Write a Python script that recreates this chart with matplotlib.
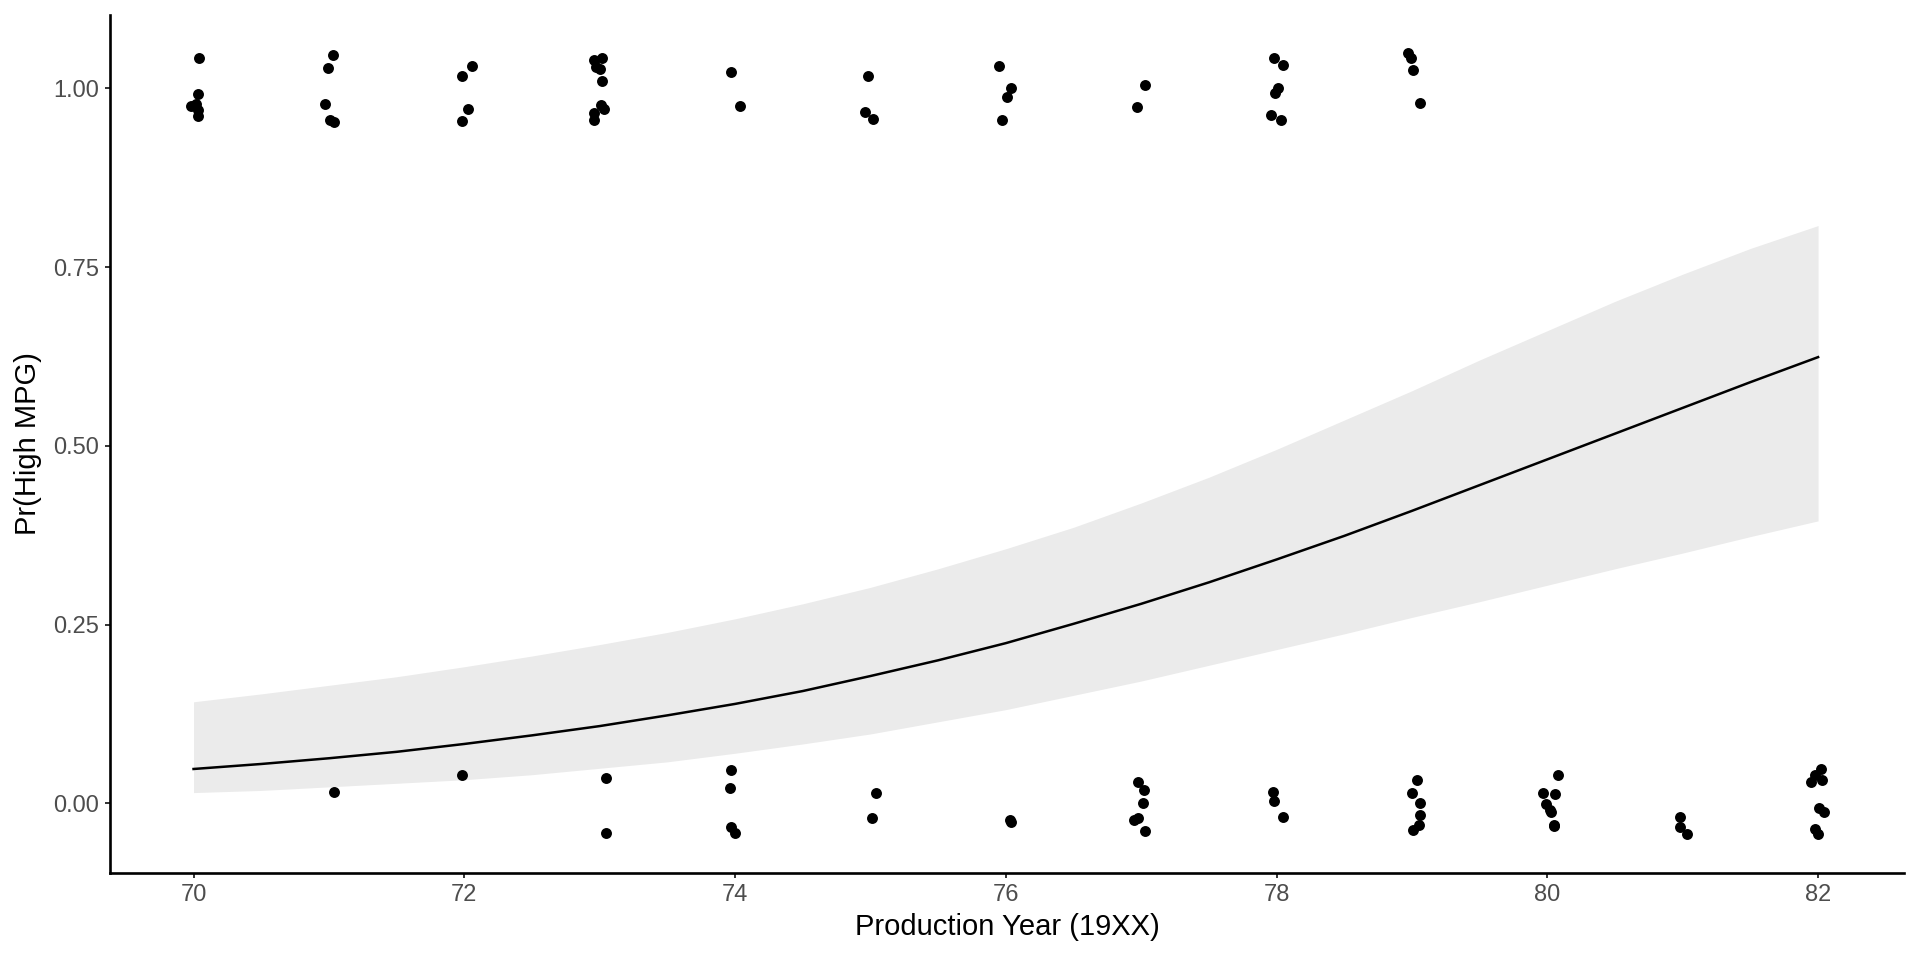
import matplotlib
matplotlib.use("Agg")
import matplotlib.pyplot as plt

# fitted curve and 95% band, every half year
fit_year = [70.0, 70.5, 71.0, 71.5, 72.0, 72.5, 73.0, 73.5, 74.0, 74.5, 75.0, 75.5, 76.0,
            76.5, 77.0, 77.5, 78.0, 78.5, 79.0, 79.5, 80.0, 80.5, 81.0, 81.5, 82.0]
fit_p = [0.048, 0.055, 0.063, 0.072, 0.083, 0.095, 0.108, 0.123, 0.139, 0.157, 0.178, 0.200, 0.224,
         0.251, 0.279, 0.309, 0.341, 0.374, 0.409, 0.445, 0.481, 0.517, 0.553, 0.589, 0.624]
fit_lo = [0.015, 0.018, 0.023, 0.028, 0.033, 0.040, 0.049, 0.058, 0.070, 0.083, 0.097, 0.114, 0.131,
          0.151, 0.171, 0.193, 0.215, 0.237, 0.260, 0.282, 0.305, 0.328, 0.350, 0.373, 0.395]
fit_hi = [0.142, 0.153, 0.165, 0.177, 0.191, 0.206, 0.222, 0.239, 0.258, 0.279, 0.302, 0.328, 0.356,
          0.386, 0.420, 0.456, 0.495, 0.536, 0.577, 0.620, 0.661, 0.702, 0.740, 0.776, 0.808]

# jittered observations (year, value)
obs_year = [
    70.04, 70.03, 70.02, 69.98, 70.03, 70.03,
    71.03, 70.99, 70.97, 71.01, 71.04,
    72.06, 71.98, 72.03, 71.98,
    73.02, 72.96, 72.97, 73.00, 73.02, 73.01, 73.03, 72.96, 72.96,
    73.97, 74.04,
    74.98, 74.96, 75.02,
    75.95, 76.04, 76.01, 75.97,
    77.03, 76.97,
    77.98, 78.05, 78.01, 77.99, 77.96, 78.03,
    78.97, 78.99, 79.01, 79.06,
    71.04, 71.98, 73.05, 73.05,
    73.97, 73.96, 73.97, 74.00,
    75.04, 75.01, 76.03, 76.04,
    76.98, 77.02, 77.01, 76.98, 76.95, 77.03,
    77.97, 77.98, 78.05,
    79.04, 79.00, 79.06, 79.06, 79.05, 79.01,
    80.08, 79.97, 80.06, 79.99, 80.02, 80.03, 80.05, 80.05,
    80.98, 80.98, 81.03,
    82.02, 81.98, 81.95, 82.03, 82.01, 82.04, 81.98, 82.00,
]
obs_p = [
    1.042, 0.992, 0.978, 0.975, 0.970, 0.961,
    1.047, 1.028, 0.978, 0.956, 0.953,
    1.031, 1.017, 0.971, 0.954,
    1.043, 1.039, 1.030, 1.027, 1.010, 0.976, 0.971, 0.966, 0.956,
    1.023, 0.975,
    1.017, 0.967, 0.957,
    1.031, 1.001, 0.988, 0.956,
    1.005, 0.974,
    1.043, 1.032, 1.001, 0.994, 0.962, 0.956,
    1.050, 1.042, 1.026, 0.979,
    0.016, 0.040, 0.035, -0.041,
    0.047, 0.021, -0.033, -0.041,
    0.014, -0.021, -0.024, -0.026,
    0.030, 0.018, 0.000, -0.021, -0.023, -0.039,
    0.016, 0.003, -0.019,
    0.033, 0.015, 0.000, -0.017, -0.030, -0.037,
    0.039, 0.015, 0.013, -0.001, -0.009, -0.012, -0.030, -0.032,
    -0.019, -0.033, -0.043,
    0.048, 0.040, 0.030, 0.033, -0.007, -0.012, -0.036, -0.043,
]

x_ticks = [70, 72, 74, 76, 78, 80, 82]
y_ticks = [0.00, 0.25, 0.50, 0.75, 1.00]

plt.rcParams['font.family'] = ['Liberation Sans', 'DejaVu Sans']

fig = plt.figure(figsize=(19.2, 9.6), dpi=100)
ax = fig.add_axes([0.0573, 0.0906, 0.9344, 0.8938])

ax.fill_between(fit_year, fit_lo, fit_hi, color="#EBEBEB", linewidth=0, zorder=1)
ax.plot(fit_year, fit_p, color="black", lw=1.8, zorder=2)
ax.scatter(obs_year, obs_p, s=62, color="black", linewidths=0, zorder=3)

ax.set_xlim(69.383, 82.635)
ax.set_ylim(-0.0975, 1.1025)
ax.set_xticks(x_ticks)
ax.set_xticklabels([str(t) for t in x_ticks])
ax.set_yticks(y_ticks)
ax.set_yticklabels([f"{t:.2f}" for t in y_ticks])

for side in ["top", "right"]:
    ax.spines[side].set_visible(False)
for side in ["left", "bottom"]:
    ax.spines[side].set_linewidth(1.9)
    ax.spines[side].set_color("black")

ax.tick_params(axis="both", length=3.6, width=1.4, color="#333333",
               labelsize=17, labelcolor="#4D4D4D", pad=4.5)

ax.set_xlabel("Production Year (19XX)", fontsize=21, color="black", labelpad=4.5)
ax.set_ylabel("Pr(High MPG)", fontsize=21, color="black", labelpad=8)

fig.savefig("out.png", dpi=100)
